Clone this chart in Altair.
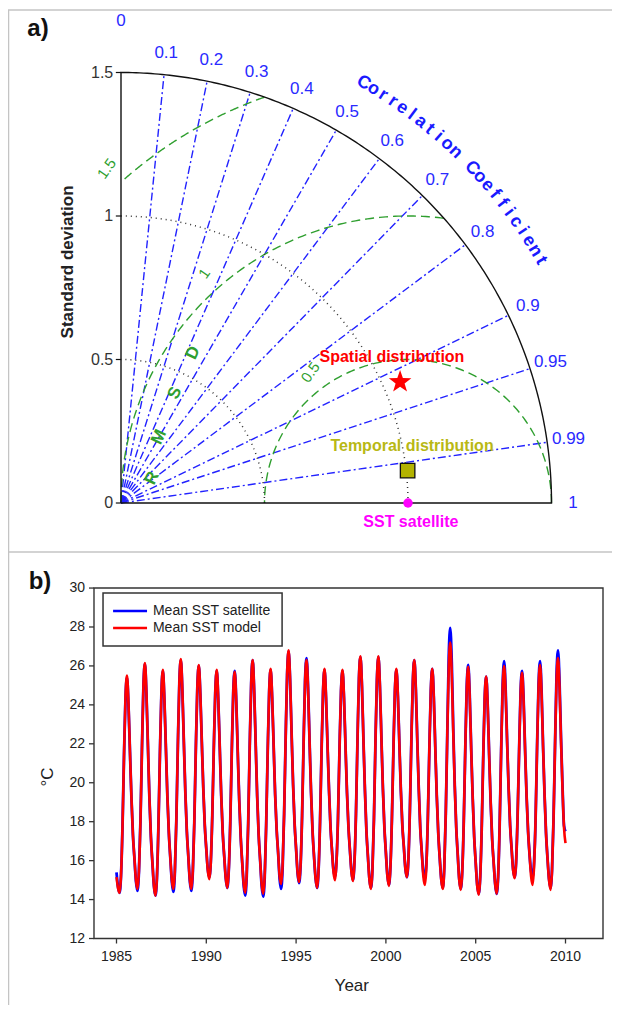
import numpy as np
import pandas as pd
import altair as alt

FONT = "Liberation Sans"

# ---------------- panel a : Taylor diagram ----------------
corr_ticks = [0, 0.1, 0.2, 0.3, 0.4, 0.5, 0.6, 0.7, 0.8, 0.9, 0.95, 0.99, 1]
corr_tick_labels = ["0", "0.1", "0.2", "0.3", "0.4", "0.5", "0.6", "0.7", "0.8", "0.9", "0.95", "0.99", "1"]
corr_rays = [0.1, 0.2, 0.3, 0.4, 0.5, 0.6, 0.7, 0.8, 0.9, 0.95, 0.99]
std_ticks = [0, 0.5, 1, 1.5]
std_tick_labels = ["0", "0.5", "1", "1.5"]
std_max = 1.5
std_arcs = [0.5, 1.0]
ref_std = 1.0
rmsd_levels = [0.5, 1.0, 1.5]
rmsd_labels = ["0.5", "1", "1.5"]
rmsd_label_x = [0.66, 0.29, -0.05]
rmsd_label_y = [0.455, 0.80, 1.165]
rmsd_letters = ["R", "M", "S", "D"]
rmsd_letter_x = [0.108, 0.132, 0.188, 0.251]
rmsd_letter_y = [0.087, 0.230, 0.383, 0.523]
point_names = ["SST satellite", "Temporal distribution", "Spatial distribution"]
point_std = [1.0, 1.005, 1.06]
point_corr = [1.0, 0.9937, 0.9174]
point_label_x = [1.01, 1.014, 0.944]
point_label_y = [-0.066, 0.20, 0.509]
corr_title = "Correlation Coefficient"

# ---------------- panel b : monthly mean SST, Jan 1985 - Jan 2010 ----------------
model_sst = [
    15.15, 14.6, 14.35, 15.2, 17.7, 21.3, 24.4, 25.5, 24.1, 21.6, 19.2, 17.3,    # 1985
    16.1, 15.0, 14.55, 15.5, 18.0, 21.7, 25.0, 26.15, 24.6, 21.9, 19.2, 17.2,    # 1986
    15.9, 14.7, 14.2, 15.1, 17.7, 21.4, 24.6, 25.8, 24.3, 21.8, 19.3, 17.4,      # 1987
    16.1, 15.0, 14.55, 15.5, 18.1, 21.9, 25.2, 26.35, 24.8, 22.1, 19.5, 17.5,    # 1988
    16.2, 15.0, 14.55, 15.5, 18.0, 21.7, 24.9, 26.05, 24.6, 22.1, 19.7, 17.8,    # 1989
    16.6, 15.5, 15.05, 15.9, 18.3, 21.7, 24.7, 25.8, 24.3, 21.8, 19.3, 17.4,     # 1990
    16.2, 15.1, 14.6, 15.5, 17.9, 21.5, 24.6, 25.7, 24.2, 21.6, 19.1, 17.2,      # 1991
    15.9, 14.8, 14.35, 15.3, 17.9, 21.8, 25.1, 26.3, 24.7, 22.0, 19.3, 17.3,     # 1992
    16.0, 14.8, 14.3, 15.2, 17.8, 21.5, 24.7, 25.85, 24.4, 21.9, 19.4, 17.6,     # 1993
    16.4, 15.2, 14.8, 15.8, 18.4, 22.2, 25.6, 26.8, 25.3, 22.5, 19.9, 17.9,      # 1994
    16.6, 15.4, 14.9, 15.8, 18.3, 22.0, 25.2, 26.3, 24.8, 22.1, 19.5, 17.5,      # 1995
    16.2, 15.1, 14.6, 15.5, 18.0, 21.6, 24.7, 25.85, 24.4, 21.9, 19.6, 17.7,     # 1996
    16.5, 15.4, 15.0, 15.9, 18.2, 21.7, 24.7, 25.8, 24.4, 21.9, 19.5, 17.7,      # 1997
    16.5, 15.4, 14.95, 15.9, 18.4, 22.1, 25.4, 26.5, 25.0, 22.2, 19.6, 17.5,     # 1998
    16.2, 15.0, 14.55, 15.5, 18.1, 22.0, 25.3, 26.5, 25.0, 22.3, 19.7, 17.7,     # 1999
    16.4, 15.2, 14.7, 15.6, 18.1, 21.6, 24.7, 25.85, 24.5, 22.0, 19.6, 17.8,     # 2000
    16.7, 15.6, 15.15, 16.0, 18.5, 22.1, 25.2, 26.3, 24.8, 22.1, 19.6, 17.6,     # 2001
    16.4, 15.2, 14.75, 15.6, 18.1, 21.6, 24.7, 25.85, 24.4, 21.8, 19.3, 17.4,    # 2002
    16.1, 15.0, 14.55, 15.6, 18.4, 22.4, 25.9, 27.2, 25.6, 22.6, 19.8, 17.7,     # 2003
    16.3, 15.0, 14.5, 15.4, 17.9, 21.6, 24.8, 25.95, 24.4, 21.7, 19.2, 17.2,     # 2004
    15.9, 14.7, 14.25, 15.1, 17.6, 21.2, 24.3, 25.45, 24.0, 21.4, 19.0, 17.1,    # 2005
    15.9, 14.8, 14.3, 15.2, 17.8, 21.6, 24.8, 26.0, 24.6, 22.1, 19.7, 17.8,      # 2006
    16.6, 15.5, 15.1, 15.9, 18.3, 21.6, 24.6, 25.65, 24.2, 21.7, 19.3, 17.5,     # 2007
    16.3, 15.2, 14.75, 15.7, 18.1, 21.8, 24.9, 26.05, 24.6, 21.9, 19.4, 17.4,    # 2008
    16.1, 15.0, 14.5, 15.5, 18.1, 21.9, 25.2, 26.4, 24.9, 22.2, 19.7, 17.7,      # 2009
    16.9,                                                                        # Jan 2010
]
satellite_sst = [
    15.4, 14.65, 14.35, 15.2, 17.7, 21.3, 24.3, 25.4, 24.0, 21.6, 19.2, 17.3,        # 1985
    16.1, 14.95, 14.45, 15.45, 18.0, 21.7, 24.95, 26.1, 24.55, 21.9, 19.2, 17.2,     # 1986
    15.9, 14.7, 14.2, 15.1, 17.7, 21.4, 24.55, 25.75, 24.25, 21.8, 19.3, 17.4,       # 1987
    16.1, 14.9, 14.4, 15.4, 18.1, 21.9, 25.15, 26.3, 24.75, 22.1, 19.5, 17.5,        # 1988
    16.2, 14.95, 14.45, 15.45, 18.0, 21.7, 24.85, 26.0, 24.55, 22.1, 19.7, 17.8,     # 1989
    16.6, 15.55, 15.15, 15.95, 18.3, 21.7, 24.65, 25.75, 24.25, 21.8, 19.3, 17.4,    # 1990
    16.2, 15.1, 14.6, 15.5, 17.9, 21.5, 24.65, 25.75, 24.25, 21.6, 19.1, 17.2,       # 1991
    15.9, 14.7, 14.2, 15.2, 17.9, 21.8, 25.1, 26.3, 24.7, 22.0, 19.3, 17.3,          # 1992
    16.0, 14.7, 14.15, 15.1, 17.8, 21.5, 24.65, 25.8, 24.35, 21.9, 19.4, 17.6,       # 1993
    16.4, 15.05, 14.55, 15.65, 18.4, 22.2, 25.55, 26.75, 25.25, 22.5, 19.9, 17.9,    # 1994
    16.6, 15.35, 14.85, 15.75, 18.3, 22.0, 25.3, 26.4, 24.9, 22.1, 19.5, 17.5,       # 1995
    16.2, 15.1, 14.6, 15.5, 18.0, 21.6, 24.65, 25.8, 24.35, 21.9, 19.6, 17.7,        # 1996
    16.5, 15.5, 15.2, 16.0, 18.2, 21.7, 24.65, 25.75, 24.35, 21.9, 19.5, 17.7,       # 1997
    16.5, 15.45, 15.0, 15.95, 18.4, 22.1, 25.35, 26.45, 24.95, 22.2, 19.6, 17.5,     # 1998
    16.2, 15.05, 14.6, 15.55, 18.1, 22.0, 25.25, 26.45, 24.95, 22.3, 19.7, 17.7,     # 1999
    16.4, 15.25, 14.75, 15.65, 18.1, 21.6, 24.65, 25.8, 24.45, 22.0, 19.6, 17.8,     # 2000
    16.7, 15.6, 15.15, 16.0, 18.5, 22.1, 25.2, 26.3, 24.8, 22.1, 19.6, 17.6,         # 2001
    16.4, 15.4, 15.05, 15.8, 18.1, 21.6, 24.7, 25.85, 24.4, 21.8, 19.3, 17.4,        # 2002
    16.1, 15.05, 14.6, 15.65, 18.4, 22.4, 26.5, 27.95, 26.2, 22.8, 19.9, 17.7,       # 2003
    16.3, 15.05, 14.55, 15.45, 17.9, 21.6, 24.9, 26.05, 24.5, 21.7, 19.2, 17.2,      # 2004
    15.9, 14.75, 14.3, 15.15, 17.6, 21.2, 24.3, 25.45, 24.0, 21.4, 19.0, 17.1,       # 2005
    15.9, 14.8, 14.3, 15.2, 17.8, 21.6, 25.0, 26.25, 24.8, 22.1, 19.7, 17.8,         # 2006
    16.6, 15.55, 15.15, 15.95, 18.3, 21.6, 24.7, 25.75, 24.3, 21.7, 19.3, 17.5,      # 2007
    16.3, 15.45, 15.15, 15.95, 18.1, 21.8, 25.05, 26.25, 24.75, 21.9, 19.4, 17.4,    # 2008
    16.1, 15.05, 14.6, 15.55, 18.1, 21.9, 25.5, 26.8, 25.2, 22.3, 19.8, 17.8,        # 2009
    17.5,                                                                            # Jan 2010
]
start_year = 1985
year_ticks = [1985, 1990, 1995, 2000, 2005, 2010]
temp_ticks = [12, 14, 16, 18, 20, 22, 24, 26, 28, 30]
series_names = ["Mean SST satellite", "Mean SST model"]
series_colors = ["#0000ff", "#ff0000"]

STAR = ("M0,-1L0.235,-0.324L0.951,-0.309L0.38,0.124L0.588,0.809L0,0.4"
        "L-0.588,0.809L-0.38,0.124L-0.951,-0.309L-0.235,-0.324Z")

# whole figure = one plot area; each panel has its own scales
W, H = 604, 997
H_A = 544
xs_a = alt.Scale(domain=[-0.39373, 1.71080], nice=False, zero=False)
ys_a = alt.Scale(domain=[-1.74913, 1.72474], nice=False, zero=False)
xs_b = alt.Scale(domain=[1978.959, 2012.589], nice=False, zero=False)
ys_b = alt.Scale(domain=[8.585, 59.792], nice=False, zero=False)


def XA(f="x"):
    return alt.X(f, type="quantitative", scale=xs_a, axis=None)


def YA(f="y"):
    return alt.Y(f, type="quantitative", scale=ys_a, axis=None)


def XB(f="x"):
    return alt.X(f, type="quantitative", scale=xs_b, axis=None)


def YB(f="y"):
    return alt.Y(f, type="quantitative", scale=ys_b, axis=None)


# ================= panel a =================
th = np.linspace(0, np.pi / 2, 181)
pts = [(0.0, 0.0), (std_max, 0.0)]
pts += [(std_max * np.cos(t), std_max * np.sin(t)) for t in th]
pts += [(0.0, 0.0)]
outer = pd.DataFrame({"x": [p[0] for p in pts], "y": [p[1] for p in pts], "i": list(range(len(pts)))})
outer_line = alt.Chart(outer).mark_line(color="#111111", strokeWidth=1.4).encode(
    x=XA(), y=YA(), order=alt.Order("i:Q"))

rows = []
for s in std_arcs:
    for j, t in enumerate(th):
        rows.append({"x": s * np.cos(t), "y": s * np.sin(t), "k": s, "i": j})
std_df = pd.DataFrame(rows)
std_lines = alt.Chart(std_df).mark_line(color="#333333", strokeWidth=1.5, strokeDash=[1, 4]).encode(
    x=XA(), y=YA(), detail="k:N", order=alt.Order("i:Q"))

rows = []
for c in corr_rays:
    rows.append({"x": 0.0, "y": 0.0, "k": c, "i": 0})
    rows.append({"x": std_max * c, "y": std_max * np.sqrt(1 - c * c), "k": c, "i": 1})
ray_df = pd.DataFrame(rows)
ray_lines = alt.Chart(ray_df).mark_line(color="#2222ff", strokeWidth=1.4, strokeDash=[8, 3, 2, 3]).encode(
    x=XA(), y=YA(), detail="k:N", order=alt.Order("i:Q"))

rows = []
for r in rmsd_levels:
    pmin = np.arccos(min(1.0, (std_max ** 2 - ref_std ** 2 - r * r) / (2 * r * ref_std)))
    pmax = np.arccos(max(-1.0, -ref_std / r))
    for j, p in enumerate(np.linspace(pmin, pmax, 160)):
        rows.append({"x": ref_std + r * np.cos(p), "y": r * np.sin(p), "k": r, "i": j})
rmsd_df = pd.DataFrame(rows)
rmsd_lines = alt.Chart(rmsd_df).mark_line(color="#2f9f2f", strokeWidth=1.4, strokeDash=[9, 5]).encode(
    x=XA(), y=YA(), detail="k:N", order=alt.Order("i:Q"))

stick = pd.DataFrame({"y": std_ticks, "x": [-0.018] * len(std_ticks), "x2": [0.0] * len(std_ticks),
                      "lab": std_tick_labels, "xl": [-0.027] * len(std_ticks)})
std_tick_marks = alt.Chart(stick).mark_rule(color="#111111", strokeWidth=1.2).encode(
    x=XA("x"), x2="x2", y=YA("y"))
std_tick_text = alt.Chart(stick).mark_text(align="right", baseline="middle", fontSize=16,
                                           color="#333333").encode(x=XA("xl"), y=YA("y"), text="lab:N")

std_title = alt.Chart(pd.DataFrame({"x": [-0.185], "y": [0.84], "t": ["Standard deviation"]})).mark_text(
    angle=270, fontSize=17, fontWeight="bold", color="#222222", baseline="middle").encode(
    x=XA(), y=YA(), text="t:N")

lab_r = [1.68 if c == 0 else 1.575 for c in corr_ticks]
ctl = pd.DataFrame({"x": [r * c for r, c in zip(lab_r, corr_ticks)],
                    "y": [r * float(np.sqrt(1 - c * c)) for r, c in zip(lab_r, corr_ticks)],
                    "lab": corr_tick_labels})
corr_text = alt.Chart(ctl).mark_text(fontSize=17, color="#2a2aff", baseline="middle").encode(
    x=XA(), y=YA(), text="lab:N")

n = len(corr_title)
ang = np.linspace(60, 30, n)
ct = pd.DataFrame({"x": 1.69 * np.cos(np.radians(ang)), "y": 1.69 * np.sin(np.radians(ang)),
                   "ch": list(corr_title), "a": 90 - ang})
ct = ct[ct["ch"] != " "].reset_index(drop=True)
corr_title_text = alt.Chart(ct).mark_text(fontSize=18, fontWeight="bold", color="#1a1aff",
                                          baseline="middle").encode(
    x=XA(), y=YA(), text="ch:N", angle=alt.Angle("a:Q", scale=None))

rl = pd.DataFrame({"x": rmsd_label_x, "y": rmsd_label_y, "lab": rmsd_labels})
rmsd_text = alt.Chart(rl).mark_text(fontSize=15, color="#2f9f2f", angle=305,
                                    baseline="middle").encode(x=XA(), y=YA(), text="lab:N")
rle = pd.DataFrame({"x": rmsd_letter_x, "y": rmsd_letter_y, "lab": rmsd_letters})
rmsd_letter_text = alt.Chart(rle).mark_text(fontSize=17, fontWeight="bold", color="#2f9f2f",
                                            angle=295, baseline="middle").encode(
    x=XA(), y=YA(), text="lab:N")

pc = np.array(point_corr)
ps = np.array(point_std)
pdf = pd.DataFrame({"name": point_names, "x": ps * pc, "y": ps * np.sqrt(np.clip(1 - pc * pc, 0, 1)),
                    "lx": point_label_x, "ly": point_label_y})
sat_pt = alt.Chart(pdf.iloc[[0]]).mark_point(shape="circle", filled=True, size=90, color="#ff00ff",
                                             opacity=1).encode(x=XA(), y=YA())
tmp_pt = alt.Chart(pdf.iloc[[1]]).mark_point(shape="square", filled=True, size=210, fill="#b3b300",
                                             stroke="#111111", strokeWidth=1.3, opacity=1).encode(x=XA(), y=YA())
spa_pt = alt.Chart(pdf.iloc[[2]]).mark_point(shape=STAR, filled=True, size=560, color="#ff0000",
                                             opacity=1).encode(x=XA(), y=YA())
label_colors = ["#ff00ff", "#b8b814", "#ff0000"]
pt_labels = [alt.Chart(pdf.iloc[[k]]).mark_text(fontSize=16, fontWeight="bold",
                                                color=label_colors[k], baseline="middle").encode(
    x=XA("lx"), y=YA("ly"), text="name:N") for k in range(3)]

panel_a = alt.layer(
    ray_lines, rmsd_lines, std_lines, outer_line,
    std_tick_marks, std_tick_text, std_title, corr_text, corr_title_text,
    rmsd_text, rmsd_letter_text, *pt_labels, sat_pt, tmp_pt, spa_pt,
)

# ================= panel b =================
t = start_year + np.arange(len(model_sst)) / 12.0
sat_df = pd.DataFrame({"x": t, "y": satellite_sst})
mod_df = pd.DataFrame({"x": t, "y": model_sst})
sat_line = alt.Chart(sat_df).mark_line(color=series_colors[0], strokeWidth=2.8,
                                       interpolate="monotone").encode(x=XB(), y=YB())
mod_line = alt.Chart(mod_df).mark_line(color=series_colors[1], strokeWidth=2.6,
                                       interpolate="monotone").encode(x=XB(), y=YB())

X_LEFT, X_RIGHT = 1983.747, 2012.088
box = pd.DataFrame({"x": [X_LEFT], "x2": [X_RIGHT], "y": [temp_ticks[0]], "y2": [temp_ticks[-1]]})
plot_box = alt.Chart(box).mark_rect(fillOpacity=0, stroke="#333333", strokeWidth=1.4).encode(
    x=XB(), x2="x2", y=YB(), y2="y2")

yt = pd.DataFrame({"y": temp_ticks, "x": [1983.469] * len(temp_ticks), "x2": [X_LEFT] * len(temp_ticks),
                   "xl": [1983.246] * len(temp_ticks), "lab": [str(v) for v in temp_ticks]})
ytick_marks = alt.Chart(yt).mark_rule(color="#333333", strokeWidth=1.3).encode(x=XB(), x2="x2", y=YB())
ytick_text = alt.Chart(yt).mark_text(align="right", baseline="middle", fontSize=14,
                                     color="#222222").encode(x=XB("xl"), y=YB(), text="lab:N")
xt = pd.DataFrame({"x": year_ticks, "y": [11.743] * len(year_ticks), "y2": [12.0] * len(year_ticks),
                   "yl": [11.05] * len(year_ticks), "lab": [str(v) for v in year_ticks]})
xtick_marks = alt.Chart(xt).mark_rule(color="#333333", strokeWidth=1.3).encode(x=XB(), y=YB(), y2="y2")
xtick_text = alt.Chart(xt).mark_text(align="center", baseline="middle", fontSize=14,
                                     color="#222222").encode(x=XB(), y=YB("yl"), text="lab:N")
x_title = alt.Chart(pd.DataFrame({"x": [1998.1], "y": [9.55], "t": ["Year"]})).mark_text(
    fontSize=17, color="#222222", baseline="middle").encode(x=XB(), y=YB(), text="t:N")
y_title = alt.Chart(pd.DataFrame({"x": [1981.2], "y": [20.3], "t": ["°C"]})).mark_text(
    fontSize=17, color="#222222", angle=270, baseline="middle").encode(x=XB(), y=YB(), text="t:N")

leg_box = alt.Chart(pd.DataFrame({"x": [1984.25], "x2": [1994.22], "y": [27.02], "y2": [29.743]})).mark_rect(
    fill="#ffffff", stroke="#333333", strokeWidth=1.5).encode(x=XB(), x2="x2", y=YB(), y2="y2")
leg = pd.DataFrame({"s": series_names, "c": series_colors, "x": [1984.81] * 2, "x2": [1986.70] * 2,
                    "y": [28.819, 27.948], "xl": [1987.03] * 2})
leg_lines = alt.Chart(leg).mark_rule(strokeWidth=2.6).encode(
    x=XB(), x2="x2", y=YB(), color=alt.Color("c:N", scale=None))
leg_text = alt.Chart(leg).mark_text(align="left", baseline="middle", fontSize=14,
                                    color="#222222").encode(x=XB("xl"), y=YB(), text="s:N")

panel_b = alt.layer(
    sat_line, mod_line, plot_box, ytick_marks, ytick_text,
    xtick_marks, xtick_text, x_title, y_title, leg_box, leg_lines, leg_text,
)

# ================= decorations (pixel positions in the figure) =================
one = pd.DataFrame({"k": [0]})
frame_left = alt.Chart(one).mark_rule(color="#c4c4c4", strokeWidth=1.5).encode(
    x=alt.value(0.5), y=alt.value(2), y2=alt.value(H))
frame_top = alt.Chart(one).mark_rule(color="#c4c4c4", strokeWidth=1.5).encode(
    x=alt.value(0), x2=alt.value(W), y=alt.value(2))
frame_mid = alt.Chart(one).mark_rule(color="#c4c4c4", strokeWidth=1.5).encode(
    x=alt.value(0), x2=alt.value(W), y=alt.value(H_A))
a_label = alt.Chart(one).mark_text(text="a)", fontSize=24, fontWeight="bold", color="#111111",
                                   baseline="middle").encode(x=alt.value(30), y=alt.value(21))
b_label = alt.Chart(one).mark_text(text="b)", fontSize=24, fontWeight="bold", color="#111111",
                                   baseline="middle").encode(x=alt.value(32), y=alt.value(H_A + 30))
deco = alt.layer(frame_left, frame_top, frame_mid, a_label, b_label)

chart = alt.layer(panel_a, panel_b, deco).resolve_scale(x="independent", y="independent").properties(
    width=W, height=H, padding=0, autosize=alt.AutoSizeParams(type="none")
).configure_view(strokeWidth=0).configure_text(font=FONT)

chart.save("out.html", embed_options={"renderer": "svg", "actions": False})
